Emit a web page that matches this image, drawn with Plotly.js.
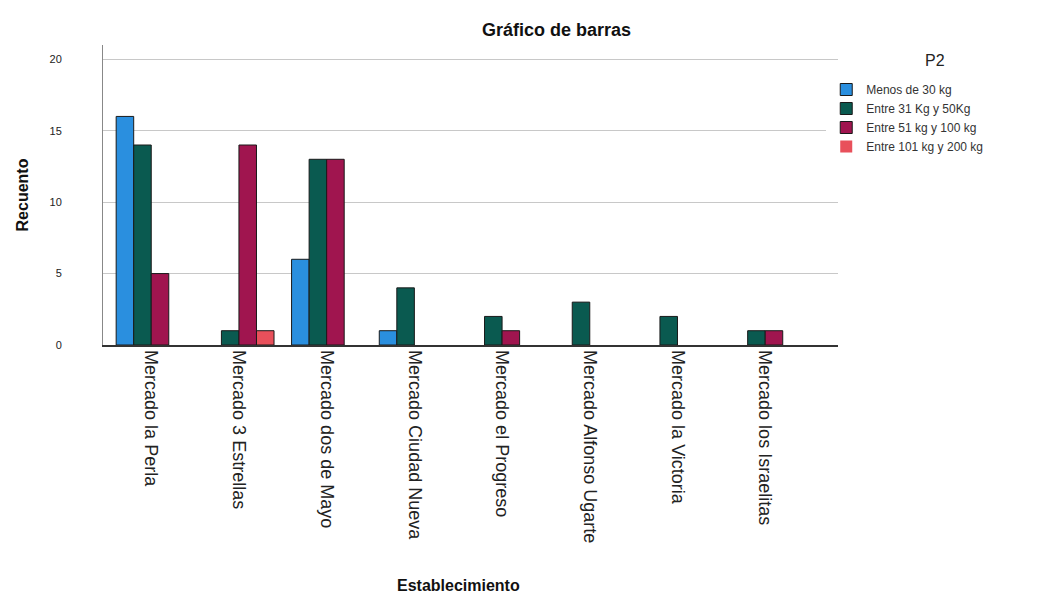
<!DOCTYPE html>
<html><head><meta charset="utf-8">
<script src="https://cdn.plot.ly/plotly-3.0.1.min.js"></script>
<style>html,body{margin:0;padding:0;background:#fff}#c{width:1042px;height:596px}</style>
</head><body><div id="c"></div>
<script>
const categories = ["Mercado la Perla","Mercado 3 Estrellas","Mercado dos de Mayo","Mercado Ciudad Nueva","Mercado el Progreso","Mercado Alfonso Ugarte","Mercado la Victoria","Mercado los Israelitas"];
const seriesNames = ["Menos de 30 kg","Entre 31 Kg y 50Kg","Entre 51 kg y 100 kg","Entre 101 kg y 200 kg"];
const menos30 = [16, 0, 6, 1, 0, 0, 0, 0];
const entre31_50 = [14, 1, 13, 4, 2, 3, 2, 1];
const entre51_100 = [5, 14, 13, 0, 1, 0, 0, 1];
const entre101_200 = [0, 1, 0, 0, 0, 0, 0, 0];
const yTicks = [0, 5, 10, 15, 20];
const colors = ["#2a8fdf","#0a5a50","#a0154f","#e8505b"];

const values = [menos30, entre31_50, entre51_100, entre101_200];
const idx = categories.map((_, i) => i);
const traces = values.map((v, k) => ({
  type: "bar", x: idx, y: v, name: seriesNames[k],
  marker: {color: colors[k], line: {color: "#1a1a1a", width: v.map(d => d > 0 ? 1 : 0)}},
  hoverinfo: "y+name"
}));

const layout = {
  width: 1042, height: 596,
  margin: {l: 103, r: 204, t: 45, b: 251},
  paper_bgcolor: "#fff", plot_bgcolor: "#fff",
  font: {family: "Liberation Sans, Arial, sans-serif", color: "#222", size: 13},
  title: {text: "Gráfico de barras", x: 0.534, xanchor: "center", y: 0.95, yanchor: "middle",
          font: {size: 18, color: "#111", family: "Liberation Sans, Arial, sans-serif", weight: "bold"}},
  barmode: "group", bargap: 0.2, bargroupgap: 0,
  showlegend: true,
  legend: {x: 0.984, xanchor: "left", y: 0.9, yanchor: "top",
           font: {size: 12, color: "#333"}, tracegroupgap: 0, itemwidth: 30},
  annotations: [
    {text: "P2", xref: "paper", yref: "paper", x: 1.132, y: 0.95, xanchor: "center", yanchor: "middle",
     showarrow: false, font: {size: 16, color: "#222"}},
    {text: "Establecimiento", xref: "paper", yref: "paper", x: 0.484, y: -0.803, xanchor: "center", yanchor: "middle",
     showarrow: false, font: {size: 16, color: "#111", weight: "bold"}}
  ],
  xaxis: {
    range: [-0.55, 7.83], tickmode: "array", tickvals: idx, ticktext: categories,
    tickangle: 90, showgrid: false, zeroline: false,
    showline: true, linecolor: "#333", linewidth: 1.5,
    ticks: "", tickfont: {size: 18, color: "#222"}
  },
  yaxis: {
    range: [0, 21], tickmode: "array", tickvals: yTicks,
    showgrid: true, gridcolor: "#c8c8c8", gridwidth: 1, zeroline: false,
    showline: true, linecolor: "#888", linewidth: 1,
    ticks: "", ticklabelstandoff: 38, tickfont: {size: 11, color: "#222"},
    title: {text: "Recuento", standoff: 16, font: {size: 16, color: "#111", weight: "bold"}}
  }
};
Plotly.newPlot("c", traces, layout, {displayModeBar: false, staticPlot: true});
</script></body></html>
